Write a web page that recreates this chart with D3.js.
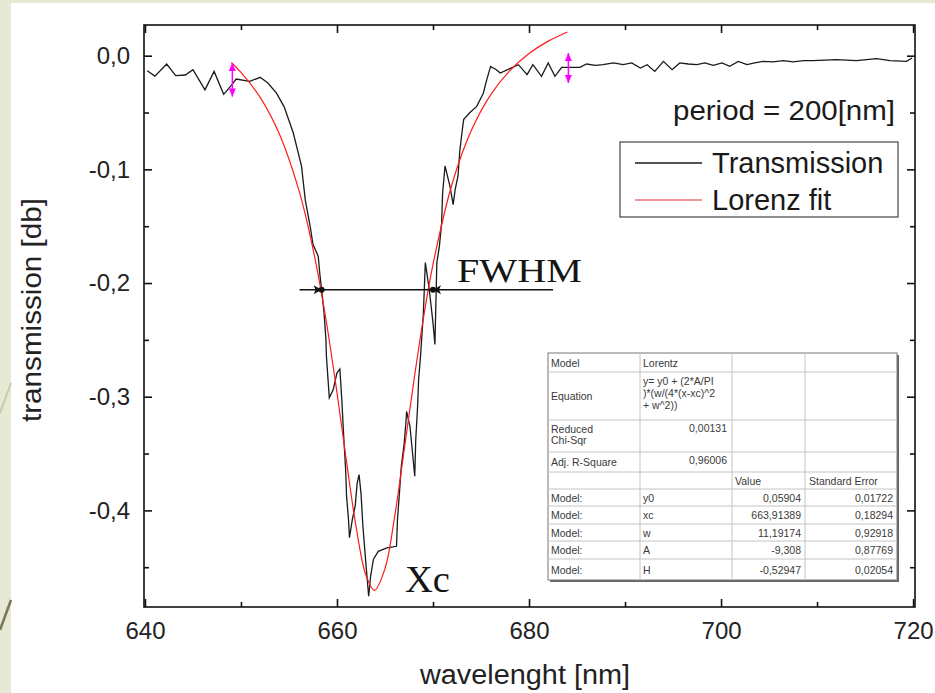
<!DOCTYPE html>
<html>
<head>
<meta charset="utf-8">
<script src="https://cdn.jsdelivr.net/npm/d3@7"></script>
<style>
body { margin: 0; background: #fff; }
svg { display: block; font-family: "Liberation Sans", Arial, sans-serif; }
</style>
</head>
<body>
<svg id="chart" width="935" height="693"></svg>
<script>
// measured trace: [wavelength nm, transmission db]
var transmission = [
	[640.24,-0.0132],[641.04,-0.018],[642.26,-0.0073],[643.2,-0.0176],[644.2,-0.017],[645.0,-0.0123],
	[646.25,-0.030],[647.2,-0.0138],[648.2,-0.034],[649.1,-0.025],[649.5,-0.0205],[650.9,-0.0226],
	[652.0,-0.019],[652.8,-0.024],[653.7,-0.033],[654.5,-0.045],[655.45,-0.068],[656.3,-0.097],
	[656.7,-0.127],[657.2,-0.150],[657.5,-0.166],[658.05,-0.1765],[658.2,-0.191],[658.4,-0.206],
	[658.65,-0.226],[658.85,-0.250],[658.9,-0.2645],[659.2,-0.301],[659.6,-0.294],[660.0,-0.279],
	[660.3,-0.2756],[660.5,-0.3025],[660.7,-0.335],[660.9,-0.364],[661.0,-0.388],[661.2,-0.408],
	[661.3,-0.424],[661.6,-0.408],[661.9,-0.396],[662.1,-0.376],[662.3,-0.3685],[662.5,-0.385],
	[662.7,-0.414],[663.0,-0.446],[663.3,-0.4755],[663.5,-0.458],[663.8,-0.443],[664.3,-0.436],
	[665.2,-0.433],[666.2,-0.4316],[666.3,-0.408],[666.5,-0.385],[666.7,-0.361],[667.0,-0.341],
	[667.2,-0.320],[667.25,-0.313],[667.6,-0.326],[668.1,-0.370],[668.2,-0.338],[668.4,-0.308],
	[668.5,-0.285],[668.7,-0.2645],[669.0,-0.226],[669.2,-0.182],[669.6,-0.205],[670.0,-0.235],
	[670.2,-0.254],[670.4,-0.182],[670.66,-0.168],[670.9,-0.147],[671.0,-0.121],[671.25,-0.097],
	[671.77,-0.115],[672.1,-0.131],[672.3,-0.118],[672.6,-0.106],[672.8,-0.083],[673.1,-0.062],
	[673.2,-0.056],[673.85,-0.050],[674.55,-0.0446],[675.24,-0.033],[675.6,-0.021],[676.0,-0.0094],
	[676.6,-0.0123],[677.0,-0.0152],[678.0,-0.0114],[678.9,-0.0079],[679.8,-0.0167],[680.4,-0.0079],
	[681.3,-0.0182],[682.0,-0.0064],[682.7,-0.0182],[683.4,-0.0103],[685.3,-0.0103],[686.0,-0.0073],
	[686.9,-0.0085],[687.7,-0.0079],[688.8,-0.0064],[689.8,-0.0079],[690.7,-0.0064],[691.6,-0.0108],
	[692.3,-0.0079],[693.1,-0.0138],[694.0,-0.005],[694.9,-0.0123],[695.7,-0.0064],[696.6,-0.0073],
	[697.5,-0.0079],[698.3,-0.0064],[699.2,-0.0085],[700.1,-0.0064],[700.9,-0.0094],[701.8,-0.005],
	[702.7,-0.0079],[703.5,-0.0064],[704.4,-0.005],[705.4,-0.0055],[706.5,-0.0044],[707.5,-0.0055],
	[708.6,-0.0044],[709.6,-0.0044],[712.0,-0.0035],[714.1,-0.0044],[716.2,-0.0026],[717.6,-0.0044],
	[719.3,-0.005],[719.9,-0.002]
];

// Lorentz fit curve
var lorenzFit = [
	[649,-0.006],[650,-0.0147],[652,-0.0367],[654,-0.0689],[656,-0.1174],[657,-0.1505],
	[658,-0.1911],[659,-0.2398],[660,-0.2966],[661,-0.3575],[662,-0.415],[663,-0.4567],
	[663.9,-0.4704],[665,-0.4512],[666,-0.4058],[667,-0.3469],[668,-0.2864],[669,-0.231],
	[670,-0.1836],[672,-0.1124],[674,-0.0656],[676,-0.0344],[678,-0.0131],[680,0.0019],
	[682,0.0128],[684,0.0209]
];

// fit range markers: [wavelength, top, bottom]
var rangeMarkers = [[649.1, -0.0064, -0.036], [684.1, 0.0024, -0.024]];

// FWHM arrow: level, line start/end, crossing points
var fwhmLevel = -0.2058;
var fwhmLine = [656.1, 682.5];
var fwhmPoints = [658.4, 670.0];

var xTicks = [640, 660, 680, 700, 720];
var xMinor = [650, 670, 690, 710];
var yTicks = [0, -0.1, -0.2, -0.3, -0.4];
var yMinor = [-0.05, -0.15, -0.25, -0.35, -0.45];

var legendLabels = ['Transmission', 'Lorenz fit'];
var legendColors = ['#1a1a1a', '#f07272'];

// fit result table
var tableHead = ['Model', 'Lorentz'];
var tableEquation = ['y= y0 + (2*A/PI', ')*(w/(4*(x-xc)^2', '+ w^2))'];
var chiLabel = ['Reduced', 'Chi-Sqr'];
var chiValue = '0,00131';
var r2Label = 'Adj. R-Square';
var r2Value = '0,96006';
var colHeads = ['Value', 'Standard Error'];
var paramNames = ['y0', 'xc', 'w', 'A', 'H'];
var paramValues = ['0,05904', '663,91389', '11,19174', '-9,308', '-0,52947'];
var paramErrors = ['0,01722', '0,18294', '0,92918', '0,87769', '0,02054'];

var svg = d3.select('#chart');

// page background (slide edge)
svg.append('rect').attr('width', 935).attr('height', 693).attr('fill', '#fff');
svg.append('rect').attr('width', 11).attr('height', 693).attr('fill', '#e6e9d3');
svg.append('rect').attr('width', 935).attr('height', 3).attr('fill', '#e6e9d3');
svg.append('line').attr('x1', 0).attr('y1', 413).attr('x2', 11).attr('y2', 383)
	.attr('stroke', '#c9c9b2').attr('stroke-width', 2);
svg.append('line').attr('x1', 0).attr('y1', 630).attr('x2', 11).attr('y2', 600)
	.attr('stroke', '#7d7757').attr('stroke-width', 2.5);

var x = d3.scaleLinear().domain([639.9, 720.2]).range([144, 915]);
var y = d3.scaleLinear().domain([-0.485, 0.027]).range([607, 25]);

var fmt = function(d) { return d3.format('.1f')(d).replace('.', ',').replace('\u2212', '-'); };

// axes, ticks pointing inwards on all four sides
function styleAxis(g) {
	g.select('.domain').remove();
	g.selectAll('.tick line').attr('stroke', '#111').attr('stroke-width', 1.6);
	g.selectAll('.tick text').attr('fill', '#222').style('font-size', '24px')
		.style('font-family', '"Liberation Sans", Arial, sans-serif');
}

svg.append('g').attr('transform', 'translate(0,607)')
	.call(d3.axisBottom(x).tickValues(xTicks).tickSizeInner(-8).tickSizeOuter(0).tickPadding(15))
	.call(styleAxis);
svg.append('g').attr('transform', 'translate(0,607)')
	.call(d3.axisBottom(x).tickValues(xMinor).tickSizeInner(-5).tickSizeOuter(0).tickFormat(''))
	.call(styleAxis);
svg.append('g').attr('transform', 'translate(0,25)')
	.call(d3.axisTop(x).tickValues(xTicks).tickSizeInner(-8).tickSizeOuter(0).tickFormat(''))
	.call(styleAxis);
svg.append('g').attr('transform', 'translate(0,25)')
	.call(d3.axisTop(x).tickValues(xMinor).tickSizeInner(-5).tickSizeOuter(0).tickFormat(''))
	.call(styleAxis);
svg.append('g').attr('transform', 'translate(144,0)')
	.call(d3.axisLeft(y).tickValues(yTicks).tickSizeInner(-8).tickSizeOuter(0).tickPadding(14).tickFormat(fmt))
	.call(styleAxis);
svg.append('g').attr('transform', 'translate(144,0)')
	.call(d3.axisLeft(y).tickValues(yMinor).tickSizeInner(-5).tickSizeOuter(0).tickFormat(''))
	.call(styleAxis);
svg.append('g').attr('transform', 'translate(915,0)')
	.call(d3.axisRight(y).tickValues(yTicks).tickSizeInner(-8).tickSizeOuter(0).tickFormat(''))
	.call(styleAxis);
svg.append('g').attr('transform', 'translate(915,0)')
	.call(d3.axisRight(y).tickValues(yMinor).tickSizeInner(-5).tickSizeOuter(0).tickFormat(''))
	.call(styleAxis);

svg.append('rect').attr('x', 144).attr('y', 25).attr('width', 771).attr('height', 582)
	.attr('fill', 'none').attr('stroke', '#111').attr('stroke-width', 1.6);

// axis titles
svg.append('text').attr('x', 525).attr('y', 684).attr('text-anchor', 'middle')
	.style('font-size', '27px').attr('fill', '#222')
	.attr('textLength', 210).attr('lengthAdjust', 'spacingAndGlyphs')
	.text('wavelenght [nm]');
svg.append('text').attr('transform', 'translate(41,310) rotate(-90)').attr('text-anchor', 'middle')
	.style('font-size', '28px').attr('fill', '#222')
	.attr('textLength', 224).attr('lengthAdjust', 'spacingAndGlyphs')
	.text('transmission [db]');

// curves
svg.append('clipPath').attr('id', 'plot-clip').append('rect')
	.attr('x', 144).attr('y', 25).attr('width', 771).attr('height', 582);
var plot = svg.append('g').attr('clip-path', 'url(#plot-clip)');

var line = d3.line().x(d => x(d[0])).y(d => y(d[1]));
plot.append('path').datum(transmission).attr('d', line)
	.attr('fill', 'none').attr('stroke', '#1a1a1a').attr('stroke-width', 1.3);
plot.append('path').datum(lorenzFit).attr('d', line.curve(d3.curveCatmullRom))
	.attr('fill', 'none').attr('stroke', '#ff1a1a').attr('stroke-width', 1.2);

// magenta fit-range markers
rangeMarkers.forEach(function(m) {
	var mx = x(m[0]), y1 = y(m[1]), y2 = y(m[2]);
	plot.append('line').attr('x1', mx).attr('x2', mx).attr('y1', y1).attr('y2', y2)
		.attr('stroke', '#ff00ff').attr('stroke-width', 1.5);
	plot.append('path').attr('d', 'M' + mx + ',' + y1 + 'l-3.5,8h7z').attr('fill', '#ff00ff');
	plot.append('path').attr('d', 'M' + mx + ',' + y2 + 'l-3.5,-8h7z').attr('fill', '#ff00ff');
});

// FWHM arrow
var fy = y(fwhmLevel);
svg.append('line').attr('x1', x(fwhmLine[0])).attr('x2', x(fwhmLine[1])).attr('y1', fy).attr('y2', fy)
	.attr('stroke', '#111').attr('stroke-width', 1.5);
var pl = x(fwhmPoints[0]), pr = x(fwhmPoints[1]);
svg.append('path').attr('d', 'M' + pl + ',' + fy + 'l-8,-4.5l2,4.5l-2,4.5z').attr('fill', '#111');
svg.append('path').attr('d', 'M' + pr + ',' + fy + 'l8,-4.5l-2,4.5l2,4.5z').attr('fill', '#111');
fwhmPoints.forEach(function(p) {
	svg.append('circle').attr('cx', x(p)).attr('cy', fy).attr('r', 3).attr('fill', '#111');
});

svg.append('text').attr('x', 457).attr('y', 282)
	.style('font-family', '"Liberation Serif", "Times New Roman", serif').style('font-size', '34px')
	.attr('fill', '#151515').attr('textLength', 125).attr('lengthAdjust', 'spacingAndGlyphs')
	.text('FWHM');
svg.append('text').attr('x', 405).attr('y', 592)
	.style('font-family', '"Liberation Serif", "Times New Roman", serif').style('font-size', '38px')
	.attr('fill', '#151515').attr('textLength', 45).attr('lengthAdjust', 'spacingAndGlyphs')
	.text('Xc');

// period label
svg.append('text').attr('x', 895).attr('y', 120).attr('text-anchor', 'end')
	.style('font-size', '27px').attr('fill', '#1a1a1a')
	.attr('textLength', 222).attr('lengthAdjust', 'spacingAndGlyphs')
	.text('period = 200[nm]');

// legend
var lg = svg.append('g');
lg.append('rect').attr('x', 620).attr('y', 142).attr('width', 278).attr('height', 75)
	.attr('fill', '#fff').attr('stroke', '#444').attr('stroke-width', 1.2);
legendLabels.forEach(function(lab, i) {
	var ly = 163 + i * 37;
	lg.append('line').attr('x1', 635).attr('x2', 702).attr('y1', ly).attr('y2', ly)
		.attr('stroke', legendColors[i]).attr('stroke-width', 1.6);
	lg.append('text').attr('x', 712).attr('y', ly + 10).style('font-size', '29px').attr('fill', '#1a1a1a')
		.text(lab);
});

// fit result table
var colX = [548, 640, 732, 805, 897];
var rowY = [353, 372, 420, 452, 472, 489, 506, 524, 541, 559, 580];
var tb = svg.append('g').style('font-size', '10.5px').attr('fill', '#3a3a3a');
tb.append('rect').attr('x', colX[0] + 2).attr('y', rowY[0] + 2)
	.attr('width', colX[4] - colX[0]).attr('height', rowY[10] - rowY[0]).attr('fill', '#666');
tb.append('rect').attr('x', colX[0]).attr('y', rowY[0])
	.attr('width', colX[4] - colX[0]).attr('height', rowY[10] - rowY[0])
	.attr('fill', '#fff').attr('stroke', '#777').attr('stroke-width', 1);
rowY.slice(1, -1).forEach(function(ry) {
	tb.append('line').attr('x1', colX[0]).attr('x2', colX[4]).attr('y1', ry).attr('y2', ry)
		.attr('stroke', '#c4c4c4');
});
colX.slice(1, -1).forEach(function(cx) {
	tb.append('line').attr('x1', cx).attr('x2', cx).attr('y1', rowY[0]).attr('y2', rowY[10])
		.attr('stroke', '#c4c4c4');
});

function cell(tx, ty, s, anchor) {
	tb.append('text').attr('x', tx).attr('y', ty).attr('text-anchor', anchor || 'start').text(s);
}
function mid(r) { return (rowY[r] + rowY[r + 1]) / 2 + 4; }

cell(colX[0] + 3, mid(0), tableHead[0]);
cell(colX[1] + 3, mid(0), tableHead[1]);
cell(colX[0] + 3, mid(1), 'Equation');
tableEquation.forEach(function(s, i) { cell(colX[1] + 3, rowY[1] + 13 + i * 12, s); });
chiLabel.forEach(function(s, i) { cell(colX[0] + 3, rowY[2] + 13 + i * 11, s); });
cell(colX[2] - 5, rowY[2] + 12, chiValue, 'end');
cell(colX[0] + 3, mid(3), r2Label);
cell(colX[2] - 5, mid(3) - 2, r2Value, 'end');
cell(colX[2] + 3, mid(4), colHeads[0]);
cell(colX[3] + 4, mid(4), colHeads[1]);
paramNames.forEach(function(p, i) {
	var ty = mid(5 + i);
	cell(colX[0] + 3, ty, 'Model:');
	cell(colX[1] + 3, ty, p);
	cell(colX[3] - 4, ty, paramValues[i], 'end');
	cell(colX[4] - 4, ty, paramErrors[i], 'end');
});
</script>
</body>
</html>
